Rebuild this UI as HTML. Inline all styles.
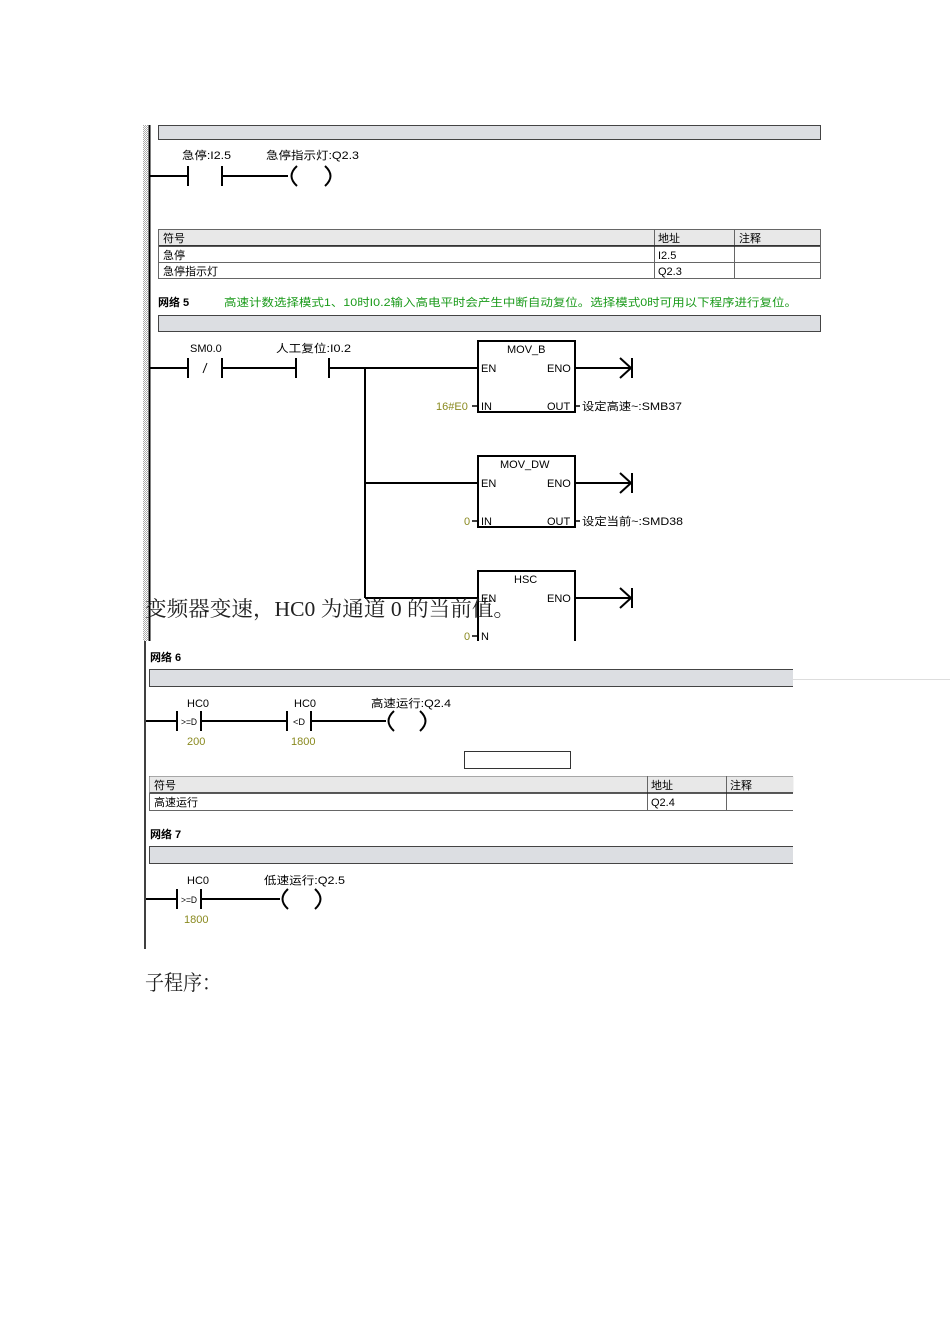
<!DOCTYPE html>
<html><head><meta charset="utf-8"><style>
html,body{margin:0;padding:0;background:#fff;width:950px;height:1344px;overflow:hidden}
svg{display:block}
.t{font-family:"Liberation Sans","Noto Sans CJK SC",sans-serif;font-size:11px;fill:#000}
.g{font-family:"Liberation Sans","Noto Sans CJK SC",sans-serif;font-size:11px;fill:#1a9a1a}
.o{font-family:"Liberation Sans",sans-serif;font-size:11px;fill:#8a8a20}
.b{font-family:"Liberation Sans","Noto Sans CJK SC",sans-serif;font-size:11px;font-weight:bold;fill:#000}
.s{font-family:"Liberation Serif","Noto Serif CJK SC",serif;font-size:21px;fill:#222}
.c{font-family:"Liberation Sans",sans-serif;font-size:9px;fill:#000}
</style></head><body>
<svg width="950" height="1344" viewBox="0 0 950 1344" xmlns="http://www.w3.org/2000/svg">
<defs><pattern id="h" width="2" height="2" patternUnits="userSpaceOnUse"><rect width="2" height="2" fill="#fff"/><rect width="1" height="1" fill="#aaa"/><rect x="1" y="1" width="1" height="1" fill="#aaa"/></pattern></defs>
<rect x="143" y="125" width="5" height="516" fill="url(#h)"/>
<line x1="149.5" y1="125" x2="149.5" y2="641" stroke="#000" stroke-width="2"/>
<rect x="158.5" y="125.5" width="662" height="14" fill="#dcdee2" stroke="#444"/>
<text class="t" x="182" y="159" textLength="49" lengthAdjust="spacingAndGlyphs">急停:I2.5</text>
<text class="t" x="266" y="159" textLength="93" lengthAdjust="spacingAndGlyphs">急停指示灯:Q2.3</text>
<g stroke="#000" stroke-width="2" fill="none">
<line x1="150" y1="176" x2="188" y2="176"/><line x1="188" y1="166" x2="188" y2="186"/>
<line x1="222" y1="166" x2="222" y2="186"/><line x1="222" y1="176" x2="288" y2="176"/>
<path d="M297 166 Q286 176 297 186"/><path d="M325 166 Q336 176 325 186"/>
</g>
<g stroke="#666" fill="none">
<rect x="158.5" y="229.5" width="662" height="49"/>
<rect x="158.5" y="229.5" width="662" height="16" fill="#e8e8e8"/>
<line x1="158" y1="262.5" x2="821" y2="262.5"/>
<line x1="654.5" y1="229" x2="654.5" y2="279"/><line x1="734.5" y1="229" x2="734.5" y2="279"/>
</g>
<line x1="159" y1="246" x2="820" y2="246" stroke="#222" stroke-width="1.5"/>
<text class="t" x="163" y="242">符号</text><text class="t" x="658" y="242">地址</text><text class="t" x="739" y="242">注释</text>
<text class="t" x="163" y="259">急停</text><text class="t" x="658" y="259">I2.5</text>
<text class="t" x="163" y="275">急停指示灯</text><text class="t" x="658" y="275">Q2.3</text>
<text class="b" x="158" y="306">网络 5</text>
<text class="g" x="224" y="306" textLength="573" lengthAdjust="spacingAndGlyphs">高速计数选择模式1、10时I0.2输入高电平时会产生中断自动复位。选择模式0时可用以下程序进行复位。</text>
<rect x="158.5" y="315.5" width="662" height="16" fill="#dcdee2" stroke="#444"/>
<text class="t" x="190" y="352">SM0.0</text>
<text class="t" x="276" y="352" textLength="75" lengthAdjust="spacingAndGlyphs">人工复位:I0.2</text>
<g stroke="#000" stroke-width="2" fill="none">
<line x1="150" y1="368" x2="188" y2="368"/><line x1="188" y1="358" x2="188" y2="378"/>
<line x1="203" y1="373" x2="207" y2="363" stroke-width="1"/>
<line x1="222" y1="358" x2="222" y2="378"/><line x1="222" y1="368" x2="296" y2="368"/>
<line x1="296" y1="358" x2="296" y2="378"/><line x1="329" y1="358" x2="329" y2="378"/>
<line x1="329" y1="368" x2="478" y2="368"/>
<line x1="365" y1="368" x2="365" y2="598"/>
<line x1="365" y1="483" x2="478" y2="483"/><line x1="365" y1="598" x2="478" y2="598"/>
<rect x="478" y="341" width="97" height="71"/>
<rect x="478" y="456" width="97" height="71"/>
<path d="M478 641 V571 H575 V641"/>
<line x1="575" y1="368" x2="632" y2="368"/><path d="M620 358 L631 368 L620 378"/><line x1="632" y1="358" x2="632" y2="378"/>
<line x1="575" y1="483" x2="632" y2="483"/><path d="M620 473 L631 483 L620 493"/><line x1="632" y1="473" x2="632" y2="493"/>
<line x1="575" y1="598" x2="632" y2="598"/><path d="M620 588 L631 598 L620 608"/><line x1="632" y1="588" x2="632" y2="608"/>
</g>
<g stroke="#000" stroke-width="1.5">
<line x1="472" y1="406" x2="478" y2="406"/><line x1="575" y1="406" x2="580" y2="406"/>
<line x1="472" y1="521" x2="478" y2="521"/><line x1="575" y1="521" x2="580" y2="521"/>
<line x1="472" y1="636" x2="478" y2="636"/>
</g>
<text class="t" x="507" y="353">MOV_B</text><text class="t" x="481" y="372">EN</text><text class="t" x="547" y="372">ENO</text>
<text class="t" x="481" y="410">IN</text><text class="t" x="547" y="410">OUT</text>
<text class="o" x="436" y="410">16#E0</text><text class="t" x="582" y="410" textLength="100" lengthAdjust="spacingAndGlyphs">设定高速~:SMB37</text>
<text class="t" x="500" y="468">MOV_DW</text><text class="t" x="481" y="487">EN</text><text class="t" x="547" y="487">ENO</text>
<text class="t" x="481" y="525">IN</text><text class="t" x="547" y="525">OUT</text>
<text class="o" x="464" y="525">0</text><text class="t" x="582" y="525" textLength="101" lengthAdjust="spacingAndGlyphs">设定当前~:SMD38</text>
<text class="t" x="514" y="583">HSC</text><text class="t" x="481" y="602">EN</text><text class="t" x="547" y="602">ENO</text>
<text class="o" x="464" y="640">0</text><text class="t" x="481" y="640">N</text>
<text class="s" x="145" y="616" textLength="370" lengthAdjust="spacingAndGlyphs">变频器变速，HC0 为通道 0 的当前值。</text>
<line x1="145" y1="641" x2="145" y2="949" stroke="#000" stroke-width="1.5"/>
<text class="b" x="150" y="661">网络 6</text>
<path d="M793 669.5 H149.5 V686.5 H793" fill="#dcdee2" stroke="#444"/>
<line x1="793" y1="679.5" x2="950" y2="679.5" stroke="#ddd"/>
<text class="t" x="187" y="707">HC0</text><text class="t" x="294" y="707">HC0</text><text class="t" x="371" y="707" textLength="80" lengthAdjust="spacingAndGlyphs">高速运行:Q2.4</text>
<text class="o" x="187" y="745">200</text><text class="o" x="291" y="745">1800</text>
<text class="c" x="181" y="725" textLength="16" lengthAdjust="spacingAndGlyphs">&gt;=D</text><text class="c" x="293" y="725" textLength="12" lengthAdjust="spacingAndGlyphs">&lt;D</text>
<g stroke="#000" stroke-width="2" fill="none">
<line x1="146" y1="721" x2="177" y2="721"/><line x1="177" y1="711" x2="177" y2="731"/>
<line x1="201" y1="711" x2="201" y2="731"/><line x1="201" y1="721" x2="287" y2="721"/>
<line x1="287" y1="711" x2="287" y2="731"/><line x1="311" y1="711" x2="311" y2="731"/>
<line x1="311" y1="721" x2="386" y2="721"/>
<path d="M394 711 Q383 721 394 731"/><path d="M420 711 Q431 721 420 731"/>
</g>
<rect x="464.5" y="751.5" width="106" height="17" fill="#fff" stroke="#333"/>
<g stroke="#666" fill="none">
<path d="M793 776.5 H149.5 V810.5 H793"/>
<rect x="149.5" y="776.5" width="644" height="16" fill="#e8e8e8" stroke="none"/>
<line x1="647.5" y1="776" x2="647.5" y2="811"/><line x1="726.5" y1="776" x2="726.5" y2="811"/>
</g>
<line x1="150" y1="793" x2="793" y2="793" stroke="#222" stroke-width="1.5"/>
<text class="t" x="154" y="789">符号</text><text class="t" x="651" y="789">地址</text><text class="t" x="730" y="789">注释</text>
<text class="t" x="154" y="806">高速运行</text><text class="t" x="651" y="806">Q2.4</text>
<text class="b" x="150" y="838">网络 7</text>
<path d="M793 846.5 H149.5 V863.5 H793" fill="#dcdee2" stroke="#444"/>
<text class="t" x="187" y="884">HC0</text><text class="t" x="264" y="884" textLength="81" lengthAdjust="spacingAndGlyphs">低速运行:Q2.5</text>
<text class="o" x="184" y="923">1800</text>
<text class="c" x="181" y="903" textLength="16" lengthAdjust="spacingAndGlyphs">&gt;=D</text>
<g stroke="#000" stroke-width="2" fill="none">
<line x1="146" y1="899" x2="177" y2="899"/><line x1="177" y1="889" x2="177" y2="909"/>
<line x1="201" y1="889" x2="201" y2="909"/><line x1="201" y1="899" x2="280" y2="899"/>
<path d="M288 889 Q277 899 288 909"/><path d="M315 889 Q326 899 315 909"/>
</g>
<text class="s" x="145" y="990" textLength="76" lengthAdjust="spacingAndGlyphs">子程序：</text>
</svg>
</body></html>
